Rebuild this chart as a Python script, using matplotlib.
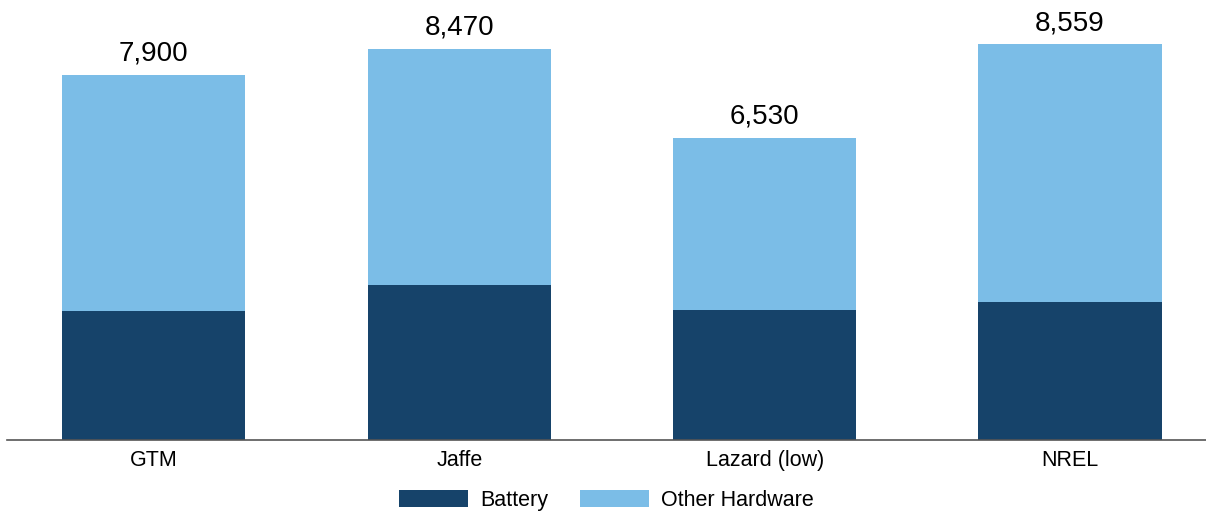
import matplotlib.pyplot as plt
import numpy as np

plt.rcParams['font.family'] = ['Liberation Sans', 'DejaVu Sans']

categories = ['GTM', 'Jaffe', 'Lazard (low)', 'NREL']
totals = [7900, 8470, 6530, 8559]
battery = [2800, 3360, 2810, 2990]
other = [t - b for t, b in zip(totals, battery)]

dark = '#16436A'
light = '#7BBDE7'

fig = plt.figure(figsize=(12.06, 5.12), dpi=100)
ax = fig.add_axes([0.006, 0.1406, 0.994, 0.8594])

x = np.arange(len(categories))
ax.bar(x, battery, width=0.6, color=dark, label='Battery')
ax.bar(x, other, width=0.6, bottom=battery, color=light, label='Other Hardware')

for xi, t in zip(x, totals):
    ax.annotate(f'{t:,}', (xi, t), xytext=(0, 6), textcoords='offset points',
                ha='center', va='bottom', fontsize=20)

ax.set_xlim(-0.48, 3.445)
ax.set_ylim(0, 9520)
ax.set_xticks(x)
ax.set_xticklabels(categories, fontsize=15.5)
ax.tick_params(axis='x', length=0, pad=7)
ax.set_yticks([])
for s in ['top', 'left', 'right']:
    ax.spines[s].set_visible(False)
ax.spines['bottom'].set_color('#555555')
ax.spines['bottom'].set_linewidth(1.2)

fig.legend(loc='lower center', bbox_to_anchor=(0.503, -0.035), ncol=2, frameon=False,
           fontsize=15.5, handlelength=3.2, handleheight=0.85, columnspacing=1.5,
           handletextpad=0.55)

fig.savefig('out.png', dpi=100)
